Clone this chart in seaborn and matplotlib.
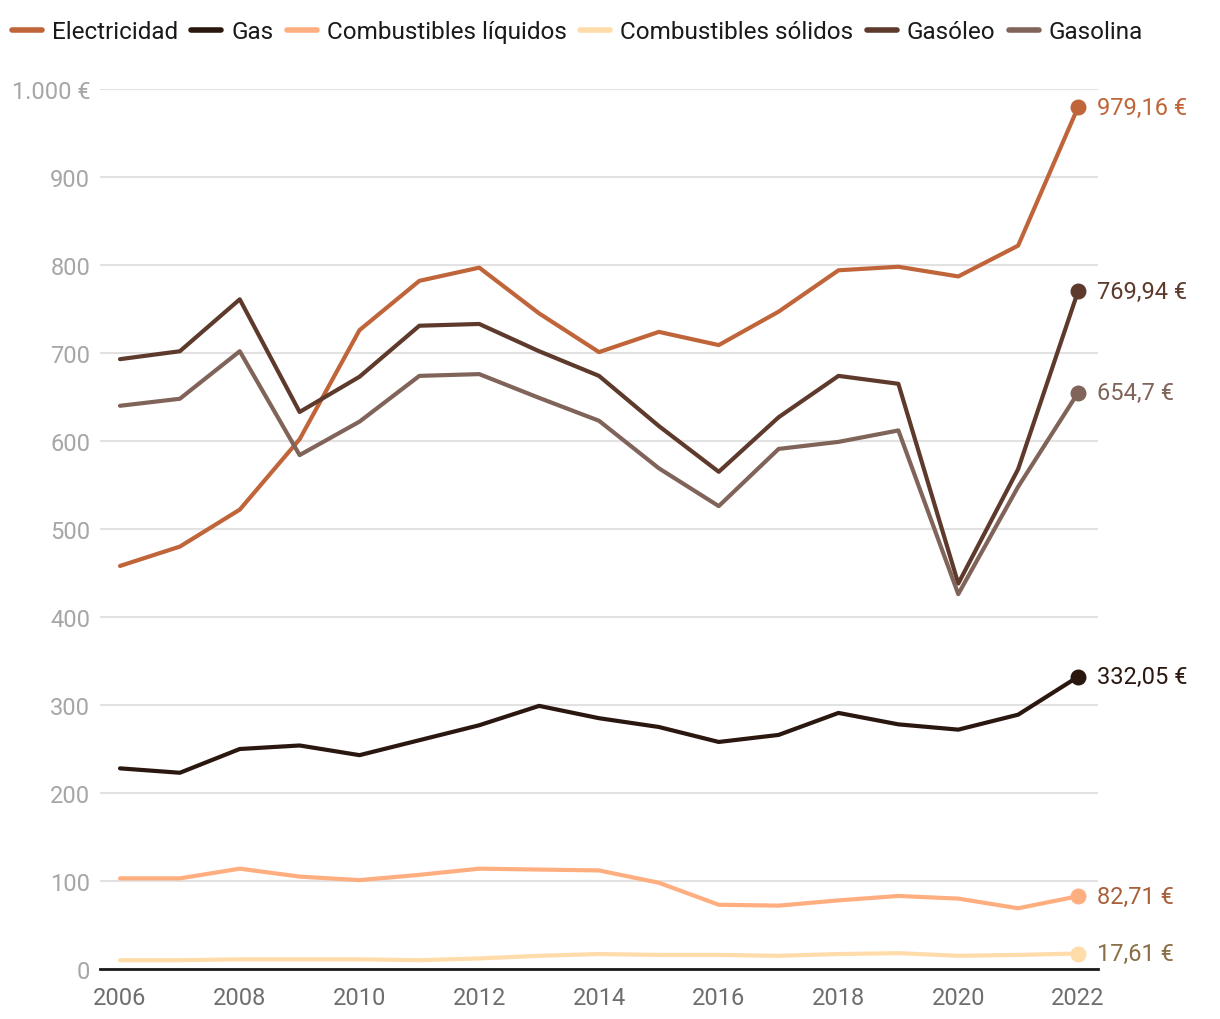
import matplotlib
matplotlib.use('Agg')
import matplotlib.pyplot as plt
import pandas as pd
import seaborn as sns

years = list(range(2006, 2023))

electricidad = [458, 480, 522, 602, 726, 782, 797, 745, 701, 724, 709, 747, 794, 798, 787, 822, 979.16]
gas = [228, 223, 250, 254, 243, 260, 277, 299, 285, 275, 258, 266, 291, 278, 272, 289, 332.05]
comb_liquidos = [103, 103, 114, 105, 101, 107, 114, 113, 112, 98, 73, 72, 78, 83, 80, 69, 82.71]
comb_solidos = [10, 10, 11, 11, 11, 10, 12, 15, 17, 16, 16, 15, 17, 18, 15, 16, 17.61]
gasoleo = [693, 702, 761, 633, 673, 731, 733, 702, 674, 617, 565, 627, 674, 665, 438, 568, 769.94]
gasolina = [640, 648, 702, 584, 622, 674, 676, 649, 623, 569, 526, 591, 599, 612, 426, 548, 654.7]

series_names = ['Electricidad', 'Gas', 'Combustibles líquidos', 'Combustibles sólidos', 'Gasóleo', 'Gasolina']
series_values = [electricidad, gas, comb_liquidos, comb_solidos, gasoleo, gasolina]
end_labels = ['979,16 €', '332,05 €', '82,71 €', '17,61 €', '769,94 €', '654,7 €']

line_colors = ['#c0653a', '#2a1810', '#ffae80', '#ffdcaa', '#5e3a2c', '#80645a']
label_colors = ['#c0653a', '#2a1810', '#a8603a', '#8a6e45', '#5e3a2c', '#80645a']

rows = []
for name, vals in zip(series_names, series_values):
    for y, v in zip(years, vals):
        rows.append({'year': y, 'value': v, 'serie': name})
df = pd.DataFrame(rows)

sns.set_theme(style='white')
plt.rcParams['font.family'] = ['Roboto', 'DejaVu Sans']

fig = plt.figure(figsize=(12.2, 10.2), dpi=100)
ax = fig.add_axes([100 / 1220, 1 - 970 / 1020, 998 / 1220, 880 / 1020])

palette = dict(zip(series_names, line_colors))
sns.lineplot(data=df, x='year', y='value', hue='serie', palette=palette,
             hue_order=series_names, linewidth=3, ax=ax, legend=False,
             clip_on=False)

# end points and labels
for name, vals, lab, lc, tc in zip(series_names, series_values, end_labels, line_colors, label_colors):
    ax.scatter([years[-1]], [vals[-1]], s=110, color=lc, zorder=5, clip_on=False)
    ax.annotate(lab, (years[-1], vals[-1]), xytext=(14, 0), textcoords='offset points',
                va='center', ha='left', fontsize=17, color=tc, annotation_clip=False)

ax.set_xlim(2006 - 20 / 59.875, 2022 + 20 / 59.875)
ax.set_ylim(0, 1000)

yt = list(range(0, 1001, 100))
ax.set_yticks(yt)
ax.set_yticklabels([('1.000 €' if t == 1000 else str(t)) for t in yt])
ax.set_xticks(list(range(2006, 2023, 2)))

ax.grid(axis='y', color='#e2e2e2', linewidth=1.5)
ax.grid(axis='x', visible=False)
for s in ['top', 'right', 'left']:
    ax.spines[s].set_visible(False)
ax.spines['bottom'].set_color('#1a1a1a')
ax.spines['bottom'].set_linewidth(2)

ax.tick_params(axis='y', length=0, pad=7, labelsize=17, labelcolor='#a6a6a6')
ax.tick_params(axis='x', length=0, pad=12, labelsize=17, labelcolor='#6e6e6e')
ax.set_xlabel('')
ax.set_ylabel('')

# legend on top
handles = [plt.Line2D([0], [0], color=c, linewidth=4, solid_capstyle='round') for c in line_colors]
fig.legend(handles, series_names, loc='upper left', bbox_to_anchor=(-0.0085, 1.0005),
           ncol=6, frameon=False, fontsize=17.5, handlelength=1.25, handletextpad=0.4,
           columnspacing=0.55, labelcolor='#1a1a1a')

fig.savefig('out.png', dpi=100)
